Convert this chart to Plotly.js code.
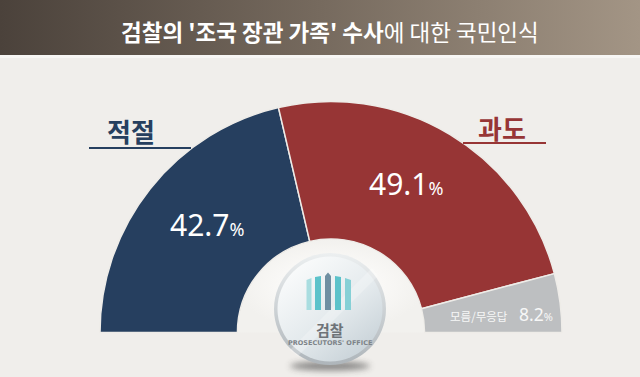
<!DOCTYPE html>
<html><head><meta charset="utf-8">
<script src="https://cdn.plot.ly/plotly-3.0.1.min.js"></script>
<style>html,body{margin:0;padding:0;overflow:hidden;background:#f0eeeb;width:640px;height:377px}#chart{width:640px;height:580px}</style>
</head><body><div id="chart"></div><script>
// ---- data ----
const categories = ['적절', '과도', '모름/무응답'];
const values = [42.7, 49.1, 8.2];
const valueLabels = ['42.7', '49.1', '8.2'];
const colors = ['#263f5f', '#973535', '#bdbfc1'];
const titleBold = "검찰의 '조국 장관 가족' 수사";
const titleRest = "에 대한 국민인식";
const logoName = '검찰';
const logoSub = "PROSECUTORS' OFFICE";

// ---- layout helpers ----
const W = 640, H = 580;
const X = x => x / W;
const Y = y => 1 - y / H;
const cx = 331, cy = 332.5, R = 231;
const total = values.reduce((a, b) => a + b, 0);

const svg = `<svg xmlns='http://www.w3.org/2000/svg' width='640' height='580' viewBox='0 0 640 580'>
<defs>
<linearGradient id='tb' x1='0' y1='0' x2='1' y2='0'><stop offset='0' stop-color='#4b423b'/><stop offset='0.5' stop-color='#766a5e'/><stop offset='1' stop-color='#a39585'/></linearGradient>
<radialGradient id='ring' cx='0.5' cy='0.5' r='0.5'><stop offset='0.55' stop-color='#f9f8f6'/><stop offset='1' stop-color='#f2f1ee'/></radialGradient>
<linearGradient id='disc' x1='0.15' y1='0.05' x2='0.85' y2='0.95'><stop offset='0' stop-color='#fbfcfc'/><stop offset='0.55' stop-color='#e4eaed'/><stop offset='1' stop-color='#c7d1d7'/></linearGradient>
<linearGradient id='rim' x1='0' y1='0' x2='0' y2='1'><stop offset='0' stop-color='#eceff0'/><stop offset='1' stop-color='#aeb5ba'/></linearGradient>
<filter id='bl' x='-50%' y='-200%' width='200%' height='500%'><feGaussianBlur stdDeviation='3'/></filter>
</defs>
<rect x='0' y='0' width='640' height='55' fill='url(#tb)'/>
<rect x='0' y='55' width='640' height='3' fill='#f7f6f4'/>
<path d='M ${cx-93} ${cy} A 93 93 0 0 1 ${cx+93} ${cy} Z' fill='url(#ring)'/>
<ellipse cx='330' cy='366' rx='40' ry='4.5' fill='#333' opacity='0.55' filter='url(#bl)'/>
<circle cx='330' cy='309' r='56' fill='url(#rim)'/>
<circle cx='330' cy='309' r='52.5' fill='url(#disc)'/>
<path d='M 290 350 L 372 268 L 378 276 L 298 356 Z' fill='#ffffff' opacity='0.25'/>
<polygon points='306.5,310 306.5,280 311.5,278 311.5,310' fill='#a9dde0'/>
<polygon points='315,310 315,277 321,276 321,310' fill='#5cc2ca'/>
<polygon points='325,310 325,276 328,272.5 331,276 331,310' fill='#6f8fa2'/>
<polygon points='335,310 335,276 341,277 341,310' fill='#5cc2ca'/>
<polygon points='345,310 345,278 351,280 351,310' fill='#86d0d6'/>
</svg>`;
const svgUri = 'data:image/svg+xml;charset=utf-8,' + encodeURIComponent(svg);

const trace = {
  type: 'pie',
  values: [...values, total],
  labels: [...categories, 'hidden'],
  sort: false,
  direction: 'clockwise',
  rotation: -90,
  hole: 0.405,
  marker: {colors: [...colors, 'rgba(0,0,0,0)'], line: {color: '#eeece8', width: [1.5, 1.5, 1.5, 0]}},
  textinfo: 'none',
  hoverinfo: 'skip',
  showlegend: false,
  domain: {x: [X(cx - R), X(cx + R)], y: [Y(cy + R), Y(cy - R)]}
};

const KR = "'Noto Sans CJK KR', 'Noto Sans', sans-serif";
const NUM = "'Noto Sans', 'Open Sans', sans-serif";
const ann = (x, y, text, size, color, family, extra) => Object.assign({
  x: X(x), y: Y(y), xref: 'paper', yref: 'paper', text: text, showarrow: false,
  xanchor: 'center', yanchor: 'middle', font: {size: size, color: color, family: family || KR}
}, extra || {});

const annotations = [
  ann(330, 31, `<b>${titleBold}</b>${titleRest}`, 22.5, '#ffffff'),
  ann(131, 130, `<b>${categories[0]}</b>`, 26, colors[0]),
  ann(502, 127, `<b>${categories[1]}</b>`, 26, colors[1]),
  ann(207, 224, `${valueLabels[0]}<span style="font-size:18px">%</span>`, 30, '#ffffff', NUM),
  ann(406, 184, `${valueLabels[1]}<span style="font-size:18px">%</span>`, 30, '#ffffff', NUM),
  ann(479, 316, categories[2], 11.5, '#f7f7f7'),
  ann(517, 314, `${valueLabels[2]}<span style="font-size:11px">%</span>`, 17.5, '#f7f7f7', NUM, {xanchor: 'left'}),
  ann(330, 329, `<b>${logoName}</b>`, 15, '#6e7378'),
  ann(330, 343, `<b>${logoSub}</b>`, 6.5, '#7d8388', "'DejaVu Sans', sans-serif")
];

const shapes = [
  {type: 'line', xref: 'paper', yref: 'paper', x0: X(89), x1: X(191), y0: Y(148), y1: Y(148), line: {color: colors[0], width: 2}},
  {type: 'line', xref: 'paper', yref: 'paper', x0: X(463), x1: X(546), y0: Y(143), y1: Y(143), line: {color: colors[1], width: 2}}
];

const layout = {
  width: W, height: H,
  margin: {l: 0, r: 0, t: 0, b: 0},
  paper_bgcolor: '#f0eeeb', plot_bgcolor: '#f0eeeb',
  font: {family: KR},
  showlegend: false,
  annotations: annotations,
  shapes: shapes,
  images: [{source: svgUri, xref: 'paper', yref: 'paper', x: 0, y: 1, sizex: 1, sizey: 1,
            xanchor: 'left', yanchor: 'top', sizing: 'stretch', layer: 'above'}]
};

Plotly.newPlot('chart', [trace], layout, {displayModeBar: false, staticPlot: true});
</script></body></html>
